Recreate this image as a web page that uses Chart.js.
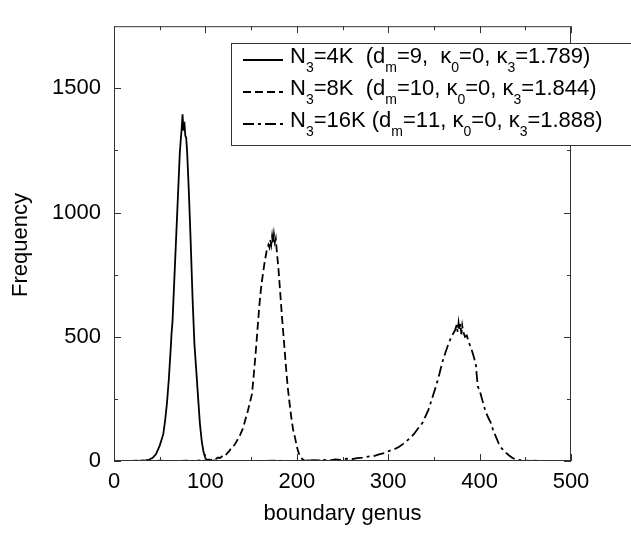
<!DOCTYPE html>
<html>
<head>
<meta charset="utf-8">
<script src="https://cdn.jsdelivr.net/npm/chart.js@4.4.0/dist/chart.umd.min.js"></script>
<style>
html, body { margin: 0; padding: 0; background: #fff; }
</style>
</head>
<body>
<canvas id="genusChart" width="631" height="533"></canvas>
<script>
// boundary genus histograms
const genus4K = [16, 20, 24, 28, 31, 34, 36, 38, 40, 42, 44, 46, 48, 50, 52, 54, 56, 58, 60, 62, 63, 64, 66, 68, 70, 72, 73, 74, 75, 76, 77, 78, 79, 80, 82, 84, 86, 88, 90, 92, 94, 96, 98, 100, 102, 104, 107, 110, 114];
const freq4K = [0, 0, 1, 0, 2, 1, 4, 3, 9, 12, 20, 28, 45, 62, 85, 110, 165, 235, 330, 450, 515, 560, 730, 900, 1070, 1240, 1290, 1335, 1395, 1330, 1365, 1310, 1300, 1245, 1075, 870, 650, 470, 365, 255, 150, 80, 35, 12, 4, 6, 0, 2, 0];

const genus8K = [20, 30, 40, 50, 60, 70, 80, 90, 94, 98, 102, 105, 108, 110, 112, 114, 116, 118, 120, 122, 124, 126, 128, 130, 132, 134, 136, 138, 141, 144, 146, 148, 151, 153, 155, 157, 159, 161, 163, 165, 167, 169, 170, 171, 172, 173, 174, 175, 176, 177, 178, 180, 182, 184, 186, 188, 190, 192, 194, 196, 198, 200, 202, 204, 206, 208, 210, 214, 218, 224, 232, 240, 250, 260, 275, 290];
const freq8K = [0, 0, 0, 1, 0, 0, 1, 0, 2, 1, 4, 3, 7, 5, 10, 14, 12, 18, 24, 22, 32, 40, 50, 56, 66, 78, 92, 105, 130, 170, 195, 225, 270, 350, 435, 530, 625, 700, 755, 805, 845, 870, 860, 890, 870, 905, 875, 912, 880, 895, 850, 770, 670, 570, 480, 385, 300, 235, 175, 125, 95, 58, 33, 18, 8, 3, 1, 3, 0, 2, 0, 1, 0, 1, 0, 0];

const genus16K = [20, 60, 100, 140, 180, 200, 206, 212, 218, 224, 230, 236, 242, 248, 254, 260, 266, 272, 278, 284, 290, 296, 302, 308, 312, 316, 320, 324, 328, 332, 336, 338, 341, 344, 347, 350, 353, 356, 359, 362, 365, 368, 371, 373, 375, 376, 377, 378, 379, 380, 381, 382, 384, 386, 388, 390, 392, 394, 396, 397, 398, 400, 403, 406, 409, 412, 415, 418, 421, 424, 428, 432, 436, 440, 445, 450, 456, 462, 466];
const freq16K = [0, 0, 0, 0, 1, 0, 2, 1, 3, 1, 4, 2, 6, 4, 9, 7, 12, 14, 18, 20, 27, 32, 42, 50, 57, 68, 80, 93, 108, 128, 146, 157, 182, 206, 240, 275, 310, 350, 395, 430, 462, 490, 512, 525, 548, 520, 556, 528, 552, 510, 545, 522, 500, 505, 480, 460, 440, 415, 385, 340, 300, 285, 245, 205, 178, 156, 122, 96, 70, 52, 36, 23, 12, 6, 3, 2, 0, 1, 0];

// "_x" marks a subscript character
const seriesLabels = [
    'N_3=4K  (d_m=9,  κ_0=0, κ_3=1.789)',
    'N_3=8K  (d_m=10, κ_0=0, κ_3=1.844)',
    'N_3=16K (d_m=11, κ_0=0, κ_3=1.888)'
];

const xTicks = [0, 100, 200, 300, 400, 500];
const xMinorTicks = [50, 150, 250, 350, 450];
const yTicks = [0, 500, 1000, 1500];
const yMinorTicks = [250, 750, 1250];

const FONT = 'Arial, "Liberation Sans", Helvetica, sans-serif';

const toPoints = (xs, ys) => xs.map((x, i) => ({ x: x, y: ys[i] }));

const drawRichText = (ctx, text, x, y) => {
    let cx = x;
    for (let i = 0; i < text.length; i++) {
        let ch = text[i];
        if (ch === '_' && i + 1 < text.length) {
            ch = text[++i];
            ctx.font = '14px ' + FONT;
            ctx.fillText(ch, cx, y + 9);
        } else {
            ctx.font = '22px ' + FONT;
            ctx.fillText(ch, cx, y);
        }
        cx += ctx.measureText(ch).width;
    }
};

const framePlugin = {
    id: 'frameAndTicks',
    afterDatasetsDraw(chart) {
        const { ctx, chartArea: a, scales: { x, y } } = chart;
        ctx.save();
        ctx.strokeStyle = '#333';
        ctx.lineWidth = 1;
        ctx.setLineDash([]);
        ctx.strokeRect(a.left + 0.5, a.top + 0.5, a.right - a.left - 1, a.bottom - a.top - 1);
        ctx.beginPath();
        const xt = (v, len) => {
            const px = Math.round(x.getPixelForValue(v)) + 0.5;
            ctx.moveTo(px, a.bottom); ctx.lineTo(px, a.bottom - len);
            ctx.moveTo(px, a.top); ctx.lineTo(px, a.top + len);
        };
        const yt = (v, len) => {
            const py = Math.round(y.getPixelForValue(v)) + 0.5;
            ctx.moveTo(a.left, py); ctx.lineTo(a.left + len, py);
            ctx.moveTo(a.right, py); ctx.lineTo(a.right - len, py);
        };
        xTicks.forEach(v => xt(v, 7));
        xMinorTicks.forEach(v => xt(v, 4));
        yTicks.forEach(v => yt(v, 7));
        yMinorTicks.forEach(v => yt(v, 4));
        ctx.stroke();

        // y axis title
        ctx.save();
        ctx.translate(21, 245);
        ctx.rotate(-Math.PI / 2);
        ctx.fillStyle = '#000';
        ctx.font = '22px ' + FONT;
        ctx.textAlign = 'center';
        ctx.textBaseline = 'middle';
        ctx.fillText('Frequency', 0, 0);
        ctx.restore();
        ctx.restore();
    },
    afterDraw(chart) {
        const ctx = chart.ctx;
        ctx.save();
        ctx.fillStyle = '#fff';
        ctx.fillRect(231, 43, 420, 102);
        ctx.strokeStyle = '#333';
        ctx.lineWidth = 1;
        ctx.strokeRect(231.5, 43.5, 420, 102);
        const rows = [63, 95, 127];
        chart.data.datasets.forEach((ds, i) => {
            ctx.strokeStyle = '#000';
            ctx.lineWidth = 2;
            ctx.setLineDash(ds.borderDash || []);
            ctx.beginPath();
            ctx.moveTo(243, rows[i] - 3);
            ctx.lineTo(283, rows[i] - 3);
            ctx.stroke();
            ctx.setLineDash([]);
            ctx.fillStyle = '#000';
            ctx.textBaseline = 'alphabetic';
            ctx.textAlign = 'left';
            drawRichText(ctx, ds.label, 290, rows[i]);
        });
        ctx.restore();
    }
};

const ctxGenus = document.getElementById('genusChart').getContext('2d');
const genusChart = new Chart(ctxGenus, {
    type: 'line',
    data: {
        datasets: [{
            label: seriesLabels[0],
            data: toPoints(genus4K, freq4K),
            borderColor: '#000',
            borderWidth: 1.8,
            borderDash: [],
        }, {
            label: seriesLabels[1],
            data: toPoints(genus8K, freq8K),
            borderColor: '#000',
            borderWidth: 1.8,
            borderDash: [8, 4],
        }, {
            label: seriesLabels[2],
            data: toPoints(genus16K, freq16K),
            borderColor: '#000',
            borderWidth: 1.8,
            borderDash: [11, 4, 3, 4],
        }]
    },
    options: {
        responsive: false,
        animation: false,
        layout: { padding: { top: 1, right: 60, left: 0, bottom: 0 } },
        elements: { point: { radius: 0 }, line: { tension: 0 } },
        plugins: {
            legend: { display: false },
            tooltip: { enabled: false }
        },
        scales: {
            x: {
                type: 'linear',
                min: 0,
                max: 500,
                grid: { display: false, drawTicks: false },
                border: { display: false },
                afterBuildTicks: s => { s.ticks = xTicks.map(v => ({ value: v })); },
                afterFit: s => { s.height = 72; },
                ticks: {
                    color: '#000',
                    padding: 8,
                    maxRotation: 0,
                    callback: v => String(v),
                    font: { family: FONT, size: 22 }
                },
                title: {
                    display: true,
                    text: 'boundary genus',
                    color: '#000',
                    padding: { top: 0, bottom: 6 },
                    font: { family: FONT, size: 22 }
                }
            },
            y: {
                type: 'linear',
                min: 0,
                max: 1750,
                grid: { display: false, drawTicks: false },
                border: { display: false },
                afterBuildTicks: s => { s.ticks = yTicks.map(v => ({ value: v })); },
                afterFit: s => { s.width = 114; },
                ticks: {
                    color: '#000',
                    padding: 13,
                    callback: v => String(v),
                    font: { family: FONT, size: 22 }
                }
            }
        }
    },
    plugins: [framePlugin]
});
</script>
</body>
</html>
